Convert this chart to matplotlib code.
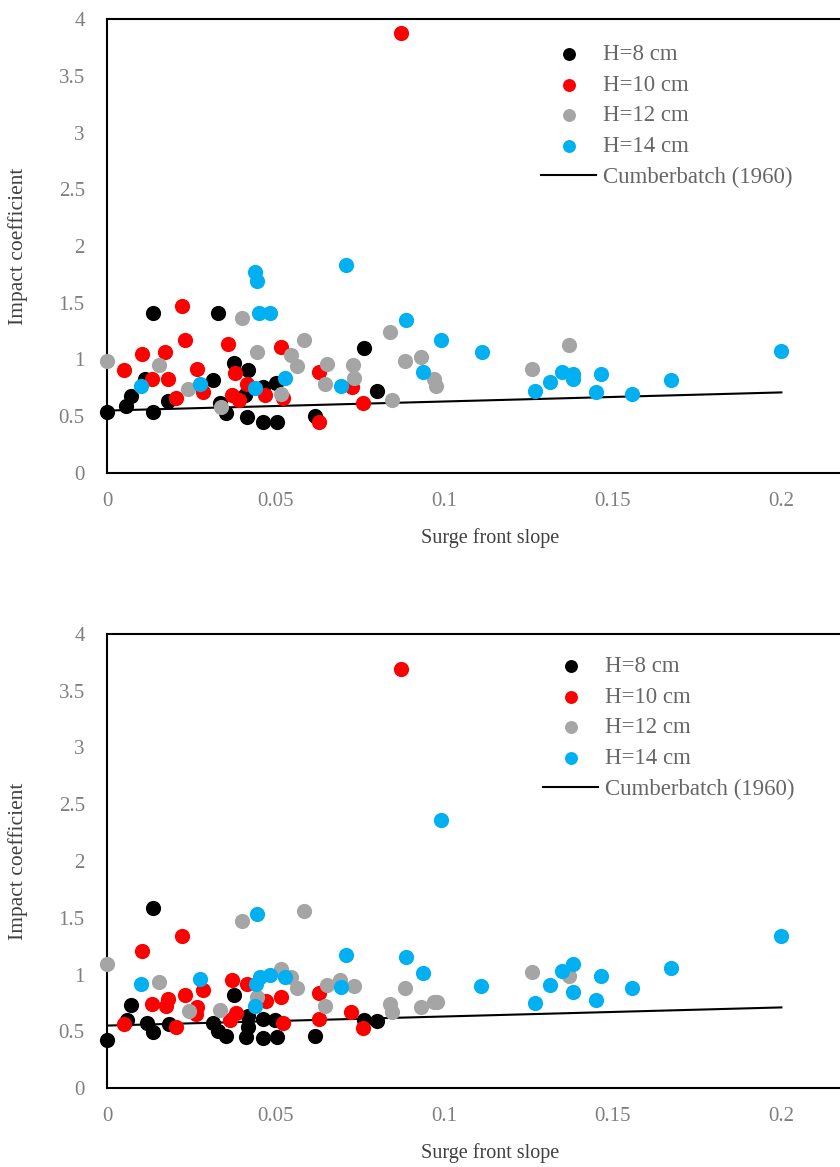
import matplotlib
matplotlib.use("Agg")
import matplotlib.pyplot as plt
from matplotlib.ticker import FormatStrFormatter

# ---- data (upper panel) ----
top_h8_x = [0, 0.0056, 0.007, 0.0137, 0.0137, 0.0113, 0.018, 0.033, 0.0335, 0.0353, 0.0315,
            0.0376, 0.0419, 0.0414, 0.0463, 0.0503, 0.0463, 0.041, 0.050, 0.0616, 0.0762, 0.080]
top_h8_y = [0.54, 0.59, 0.68, 1.41, 0.54, 0.83, 0.63, 1.41, 0.62, 0.53, 0.82,
            0.97, 0.91, 0.49, 0.45, 0.45, 0.76, 0.69, 0.79, 0.50, 1.10, 0.72]
top_h10_x = [0.005, 0.0105, 0.0132, 0.018, 0.0172, 0.0223, 0.0231, 0.0268, 0.0204, 0.0285,
             0.036, 0.038, 0.0372, 0.039, 0.0414, 0.047, 0.0516, 0.0522, 0.0629, 0.0727,
             0.076, 0.0629, 0.0871]
top_h10_y = [0.91, 1.05, 0.83, 0.83, 1.07, 1.47, 1.17, 0.92, 0.66, 0.71,
             1.14, 0.88, 0.69, 0.64, 0.78, 0.69, 1.11, 0.66, 0.89, 0.76,
             0.62, 0.45, 3.88]
top_h12_x = [0, 0.0155, 0.0241, 0.040, 0.0444, 0.0337, 0.0515, 0.0547, 0.0562, 0.0585,
             0.0651, 0.0646, 0.073, 0.0732, 0.0839, 0.0883, 0.093, 0.0845, 0.0969, 0.0977,
             0.1261, 0.1369]
top_h12_y = [0.99, 0.95, 0.74, 1.37, 1.07, 0.58, 0.70, 1.04, 0.94, 1.17,
             0.96, 0.78, 0.95, 0.84, 1.24, 0.99, 1.02, 0.64, 0.83, 0.77,
             0.92, 1.13]
top_h14_x = [0.010, 0.044, 0.0444, 0.0451, 0.0483, 0.0276, 0.0439, 0.0527, 0.071, 0.0888,
             0.099, 0.1111, 0.0937, 0.0693, 0.127, 0.1315, 0.135, 0.1382, 0.1382, 0.1466,
             0.1451, 0.1556, 0.1673, 0.1999]
top_h14_y = [0.77, 1.77, 1.69, 1.41, 1.41, 0.78, 0.75, 0.84, 1.83, 1.35,
             1.17, 1.07, 0.89, 0.77, 0.725, 0.80, 0.89, 0.87, 0.83, 0.87,
             0.71, 0.70, 0.82, 1.075]

# ---- lower panel ----
bot_h8_x = [0, 0.0137, 0.007, 0.0058, 0.012, 0.0137, 0.0184, 0.0313, 0.033, 0.0352, 0.0376,
            0.0412, 0.0419, 0.0463, 0.0463, 0.0503, 0.0498, 0.0419, 0.0616, 0.0762, 0.080]
bot_h8_y = [0.42, 1.59, 0.73, 0.60, 0.57, 0.49, 0.56, 0.57, 0.50, 0.46, 0.82,
            0.45, 0.63, 0.61, 0.44, 0.45, 0.60, 0.54, 0.46, 0.60, 0.59]
bot_h10_x = [0.005, 0.0105, 0.0132, 0.018, 0.0175, 0.0223, 0.0231, 0.0268, 0.0204, 0.0285,
             0.0264, 0.0372, 0.0414, 0.0384, 0.0364, 0.0471, 0.0516, 0.0522, 0.0629, 0.0629,
             0.0725, 0.076, 0.0871]
bot_h10_y = [0.56, 1.21, 0.74, 0.78, 0.72, 1.34, 0.82, 0.71, 0.54, 0.86,
             0.65, 0.95, 0.92, 0.66, 0.60, 0.77, 0.80, 0.57, 0.84, 0.61,
             0.67, 0.53, 3.69]
bot_h12_x = [0, 0.0155, 0.040, 0.0244, 0.0335, 0.0444, 0.0515, 0.0547, 0.0562, 0.0585,
             0.0651, 0.0646, 0.0692, 0.0732, 0.0839, 0.0846, 0.0883, 0.093, 0.0969, 0.0979,
             0.1261, 0.1369]
bot_h12_y = [1.09, 0.93, 1.47, 0.68, 0.69, 0.80, 1.05, 0.975, 0.88, 1.56,
             0.91, 0.72, 0.95, 0.90, 0.74, 0.67, 0.88, 0.71, 0.755, 0.755,
             1.02, 0.99]
bot_h14_x = [0.010, 0.0444, 0.0276, 0.0441, 0.0453, 0.0483, 0.0529, 0.044, 0.071, 0.099,
             0.0888, 0.0937, 0.111, 0.0693, 0.127, 0.1315, 0.135, 0.1382, 0.1382, 0.1466,
             0.1451, 0.1556, 0.1673, 0.1999]
bot_h14_y = [0.92, 1.53, 0.96, 0.92, 0.975, 1.0, 0.98, 0.72, 1.17, 2.36,
             1.15, 1.01, 0.90, 0.89, 0.75, 0.91, 1.03, 1.09, 0.85, 0.99,
             0.775, 0.88, 1.055, 1.34]

cumber_x = [0, 0.2]
cumber_y = [0.55, 0.71]

labels = ["H=8 cm", "H=10 cm", "H=12 cm", "H=14 cm"]
colors = ["#000000", "#FF0000", "#A5A5A5", "#00B0F0"]

plt.rcParams['font.family'] = ['Liberation Serif', 'DejaVu Serif']

tick_color = "#7F7F7F"
text_color = "#404040"


def draw_panel(fig, rect, series, legend_anchor, ylabel_y, xlabel_y):
    ax = fig.add_axes(rect)
    for (xs, ys), lab, col in zip(series, labels, colors):
        ax.scatter(xs, ys, s=120, color=col, label=lab, linewidths=0, zorder=3, clip_on=False)
    ax.plot(cumber_x, cumber_y, color="black", lw=1.5, label="Cumberbatch (1960)", zorder=2)

    ax.set_xlim(0, 0.25)
    ax.set_ylim(0, 4)
    ax.set_xticks([0, 0.05, 0.1, 0.15, 0.2])
    ax.set_yticks([0, 0.5, 1, 1.5, 2, 2.5, 3, 3.5, 4])
    ax.xaxis.set_major_formatter(FormatStrFormatter('%g'))
    ax.yaxis.set_major_formatter(FormatStrFormatter('%g'))
    ax.tick_params(length=0, labelsize=15, labelcolor=tick_color)
    ax.tick_params(axis='x', pad=14)
    ax.tick_params(axis='y', pad=16)
    for sp in ax.spines.values():
        sp.set_linewidth(1.5)

    leg = ax.legend(loc="upper left", bbox_to_anchor=legend_anchor,
                    bbox_transform=fig.transFigure, frameon=False, fontsize=16.5,
                    handlelength=2.4, handletextpad=0.3, labelspacing=0.42,
                    borderpad=0, borderaxespad=0, markerscale=0.85)
    for t in leg.get_texts():
        t.set_color("#666666")

    fig.text(18 / 840, ylabel_y, "Impact coefficient", rotation=90,
             ha="center", va="center", fontsize=15.5, color=text_color)
    fig.text(490 / 840, xlabel_y, "Surge front slope",
             ha="center", va="center", fontsize=14.5, color=text_color)
    return ax


fig = plt.figure(figsize=(8.4, 11.67), dpi=100)

top_series = [(top_h8_x, top_h8_y), (top_h10_x, top_h10_y),
              (top_h12_x, top_h12_y), (top_h14_x, top_h14_y)]
bot_series = [(bot_h8_x, bot_h8_y), (bot_h10_x, bot_h10_y),
              (bot_h12_x, bot_h12_y), (bot_h14_x, bot_h14_y)]

draw_panel(fig, [107 / 840, 1 - 473 / 1167, 843 / 840, 454 / 1167], top_series,
           (541 / 840, 1 - 44 / 1167), 1 - 246 / 1167, 1 - 538 / 1167)
draw_panel(fig, [107 / 840, 1 - 1088 / 1167, 843 / 840, 454 / 1167], bot_series,
           (543 / 840, 1 - 656 / 1167), 1 - 861 / 1167, 1 - 1153 / 1167)

fig.savefig("out.png", dpi=100)
